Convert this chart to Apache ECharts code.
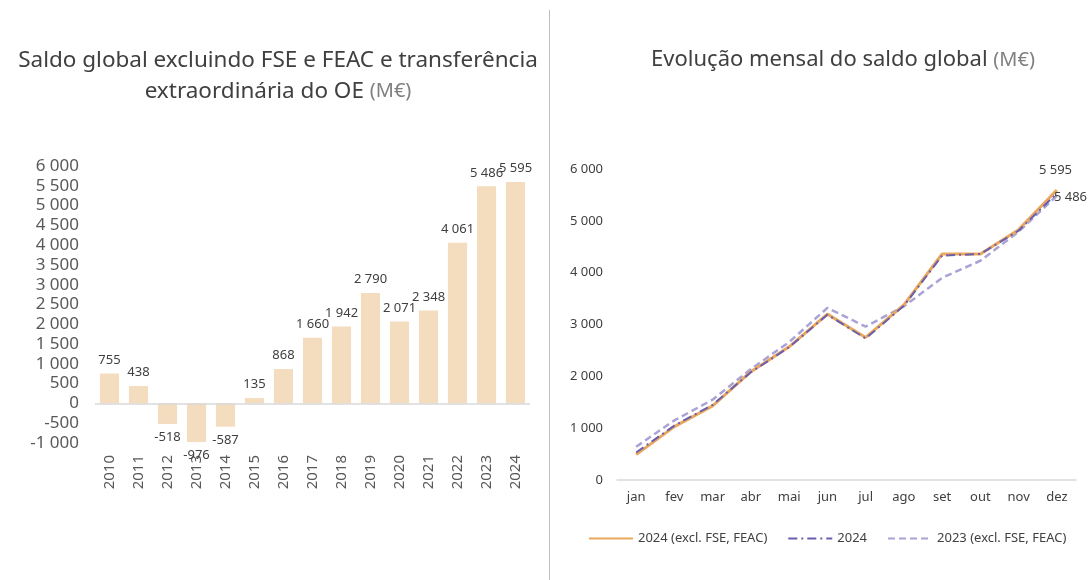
<!DOCTYPE html>
<html>
<head>
<meta charset="utf-8">
<script src="https://cdn.jsdelivr.net/npm/echarts@6/dist/echarts.min.js"></script>
<style>
  html, body { margin: 0; padding: 0; background: #fff; }
  #chart { width: 1090px; height: 580px; }
</style>
</head>
<body>
<div id="chart"></div>
<script>
// dados
const anos = ['2010', '2011', '2012', '2013', '2014', '2015', '2016', '2017', '2018', '2019', '2020', '2021', '2022', '2023', '2024']
const saldoAnual = [755, 438, -518, -976, -587, 135, 868, 1660, 1942, 2790, 2071, 2348, 4061, 5486, 5595]

const meses = ['jan', 'fev', 'mar', 'abr', 'mai', 'jun', 'jul', 'ago', 'set', 'out', 'nov', 'dez']
const s2024excl = [490, 1030, 1430, 2090, 2570, 3200, 2750, 3380, 4360, 4360, 4830, 5595]
const s2024 = [530, 1050, 1450, 2080, 2560, 3190, 2730, 3360, 4330, 4360, 4810, 5530]
const s2023excl = [640, 1150, 1550, 2140, 2660, 3320, 2960, 3350, 3900, 4230, 4790, 5486]

const fmt = v => {
  let s = Math.abs(v).toString().replace(/\B(?=(\d{3})+(?!\d))/g, ' ')
  return (v < 0 ? '-' : '') + s
}

let myChart = echarts.init(document.getElementById('chart'))
const fonte = '"Noto Sans", sans-serif'

myChart.setOption({
  textStyle: { fontFamily: fonte },
  animation: false,
  title: [
    {
      text: 'Saldo global excluindo FSE e FEAC e transferência\nextraordinária do OE {u|(M€)}',
      left: 273,
      top: 40,
      textAlign: 'center',
      textStyle: {
        fontFamily: fonte,
        fontSize: 22.5,
        fontWeight: 'normal',
        color: '#404040',
        lineHeight: 31,
        rich: { u: { fontSize: 20, color: '#808080', fontFamily: fonte } }
      }
    },
    {
      text: 'Evolução mensal do saldo global {u|(M€)}',
      left: 838,
      top: 44,
      textAlign: 'center',
      textStyle: {
        fontFamily: fonte,
        fontSize: 22,
        fontWeight: 'normal',
        color: '#404040',
        rich: { u: { fontSize: 20, color: '#808080', fontFamily: fonte } }
      }
    }
  ],
  graphic: [
    {
      type: 'line',
      shape: { x1: 549.5, y1: 10, x2: 549.5, y2: 580 },
      style: { stroke: '#bfbfbf', lineWidth: 1 }
    }
  ],
  legend: {
    left: 583,
    top: 527,
    itemWidth: 44,
    itemHeight: 14,
    itemGap: 20,
    itemStyle: { opacity: 0 },
    textStyle: { fontSize: 13, color: '#404040', fontFamily: fonte },
    data: ['2024 (excl. FSE, FEAC)', '2024', '2023 (excl. FSE, FEAC)']
  },
  grid: [
    { left: 95, right: 560, top: 166, bottom: 137 },
    { left: 617, right: 14, top: 169, bottom: 100 }
  ],
  xAxis: [
    {
      type: 'category',
      gridIndex: 0,
      data: anos,
      axisLine: { show: false, onZero: false },
      axisTick: { show: false },
      axisLabel: { rotate: 90, margin: 12, fontSize: 15, color: '#595959', fontFamily: fonte }
    },
    {
      type: 'category',
      gridIndex: 1,
      data: meses,
      boundaryGap: true,
      axisLine: { lineStyle: { color: '#d9d9d9', width: 1.5 } },
      axisTick: { show: false },
      axisLabel: { margin: 11, fontSize: 13, color: '#404040', fontFamily: fonte }
    }
  ],
  yAxis: [
    {
      type: 'value',
      gridIndex: 0,
      min: -1000,
      max: 6000,
      interval: 500,
      splitLine: { show: false },
      axisLine: { show: false },
      axisLabel: { fontSize: 17, color: '#595959', margin: 16, formatter: fmt, fontFamily: fonte }
    },
    {
      type: 'value',
      gridIndex: 1,
      min: 0,
      max: 6000,
      interval: 1000,
      splitLine: { show: false },
      axisLine: { show: false },
      axisLabel: { fontSize: 13, color: '#404040', margin: 14, formatter: fmt, fontFamily: fonte }
    }
  ],
  series: [
    {
      type: 'bar',
      xAxisIndex: 0,
      yAxisIndex: 0,
      data: saldoAnual,
      barWidth: '66%',
      itemStyle: { color: '#f4dcbf' },
      label: {
        show: true,
        position: 'outside',
        distance: 7,
        fontSize: 13,
        color: '#404040',
        fontFamily: fonte,
        formatter: p => fmt(p.value)
      },
      markLine: {
        silent: true,
        symbol: 'none',
        label: { show: false },
        lineStyle: { color: '#d9d9d9', type: 'solid', width: 1.5 },
        data: [{ yAxis: 0 }]
      }
    },
    {
      name: '2023 (excl. FSE, FEAC)',
      type: 'line',
      xAxisIndex: 1,
      yAxisIndex: 1,
      data: s2023excl,
      symbol: 'none',
      lineStyle: { color: '#aba2d6', width: 2.5, type: [7, 4] },
      itemStyle: { color: '#aba2d6' },
      endLabel: {
        show: true,
        distance: 0,
        offset: [-3, 2],
        fontSize: 13,
        color: '#404040',
        fontFamily: fonte,
        formatter: p => fmt(p.value)
      }
    },
    {
      name: '2024',
      type: 'line',
      xAxisIndex: 1,
      yAxisIndex: 1,
      data: s2024,
      symbol: 'none',
      lineStyle: { color: '#6a5fae', width: 2, type: [9, 4, 2, 4] },
      itemStyle: { color: '#6a5fae' },
      z: 4
    },
    {
      name: '2024 (excl. FSE, FEAC)',
      type: 'line',
      xAxisIndex: 1,
      yAxisIndex: 1,
      data: s2024excl,
      symbol: 'none',
      lineStyle: { color: '#eaa75e', width: 3 },
      itemStyle: { color: '#eaa75e' },
      z: 3,
      endLabel: {
        show: true,
        distance: 0,
        offset: [-18, -20],
        fontSize: 13,
        color: '#404040',
        fontFamily: fonte,
        formatter: p => fmt(p.value)
      }
    }
  ]
})
</script>
</body>
</html>
